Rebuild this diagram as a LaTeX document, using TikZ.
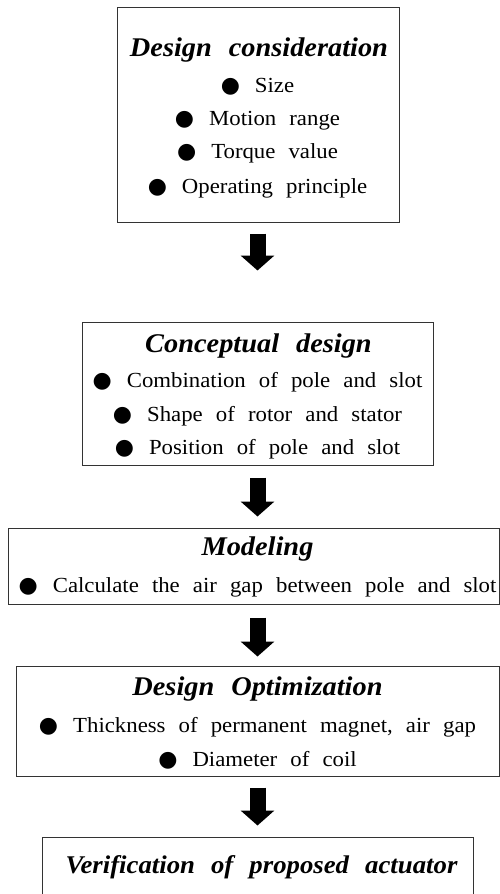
\documentclass[tikz,border=0pt]{standalone}
\usepackage{fontspec}
\setmainfont{Liberation Serif}[FakeStretch=1.06, WordSpace=2.3]
\newfontfamily\titlefont{Liberation Serif}[FakeStretch=1.05, WordSpace=2.4]
\newfontfamily\symfont{DejaVu Sans}
\usetikzlibrary{arrows.meta}

% filled round bullet in front of each item
\newcommand\itemdot{{\symfont\fontsize{22}{22}\selectfont ●}\hspace{15pt}}

\tikzset{
  box/.style={draw=black!80, line width=1pt, inner sep=0pt},
  ttl/.style={anchor=base, inner sep=0pt, font=\titlefont\fontsize{27}{27}\selectfont\bfseries\itshape},
  itm/.style={anchor=base, inner sep=0pt, font=\fontsize{21.5}{21.5}\selectfont},
  blockarrow/.style={line width=16pt, -{Triangle[width=33pt,length=15pt]}, black}
}

\begin{document}
\begin{tikzpicture}[x=1pt, y=-1pt]
\useasboundingbox (0,0) rectangle (500,894);
\clip (0,0) rectangle (500,894);
\fill[white] (0,0) rectangle (500,894);

% boxes
\node[box, minimum width=282pt, minimum height=215pt] (b1) at (258,114.5) {};
\node[box, minimum width=351pt, minimum height=143pt] (b2) at (257.5,393.5) {};
\node[box, minimum width=491pt, minimum height=76pt]  (b3) at (253.5,566) {};
\node[box, minimum width=483pt, minimum height=110pt] (b4) at (257.5,721) {};
\node[box, minimum width=431pt, minimum height=93pt]  (b5) at (257.5,883.5) {};

% box texts
\node[ttl] (t1) at (259,56) {Design consideration};
\node[itm] (t1a) at (257.5,92) {\itemdot Size};
\node[itm] (t1b) at (257.5,125) {\itemdot Motion range};
\node[itm] (t1c) at (257.5,158) {\itemdot Torque value};
\node[itm] (t1d) at (257.5,193) {\itemdot Operating principle};

\node[ttl] (t2) at (258.5,352) {Conceptual design};
\node[itm] (t2a) at (257.5,387) {\itemdot Combination of pole and slot};
\node[itm] (t2b) at (257.5,421) {\itemdot Shape of rotor and stator};
\node[itm] (t2c) at (257.5,454) {\itemdot Position of pole and slot};

\node[ttl] (t3) at (257.5,555) {Modeling};
\node[itm] (t3a) at (257.5,592) {\itemdot Calculate the air gap between pole and slot};

\node[ttl] (t4) at (257.5,695) {Design Optimization};
\node[itm] (t4a) at (257.5,732) {\itemdot Thickness of permanent magnet, air gap};
\node[itm] (t4b) at (257.5,766) {\itemdot Diameter of coil};

\node[ttl, font=\titlefont\fontsize{25.5}{25.5}\selectfont\bfseries\itshape] (t5) at (261.5,873) {Verification of proposed actuator};

% block arrows between the stages
\coordinate (ax) at (257.5,0);
\draw[blockarrow] ([yshift=-11pt]b1.south -| ax) -- ([yshift=51pt]b2.north -| ax);
\draw[blockarrow] ([yshift=-12pt]b2.south -| ax) -- ([yshift=11pt]b3.north -| ax);
\draw[blockarrow] ([yshift=-13pt]b3.south -| ax) -- ([yshift=9pt]b4.north -| ax);
\draw[blockarrow] ([yshift=-11pt]b4.south -| ax) -- ([yshift=11pt]b5.north -| ax);
\end{tikzpicture}
\end{document}
